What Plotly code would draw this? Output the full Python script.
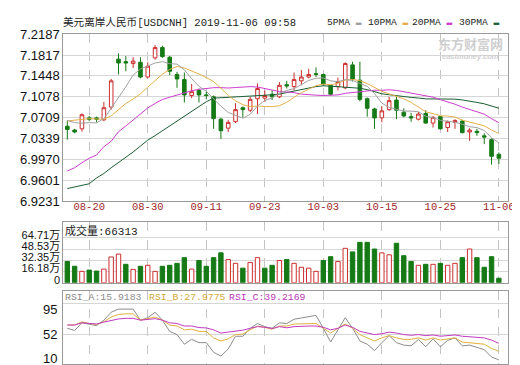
import plotly.graph_objects as go

# ---------------- data ----------------
dates = [
    "2019-08-15", "2019-08-16", "2019-08-19", "2019-08-20", "2019-08-21", "2019-08-22", "2019-08-23",
    "2019-08-26", "2019-08-27", "2019-08-28", "2019-08-29", "2019-08-30",
    "2019-09-02", "2019-09-03", "2019-09-04", "2019-09-05", "2019-09-06", "2019-09-09", "2019-09-10",
    "2019-09-11", "2019-09-12", "2019-09-13", "2019-09-16", "2019-09-17", "2019-09-18", "2019-09-19",
    "2019-09-20", "2019-09-23", "2019-09-24", "2019-09-25", "2019-09-26", "2019-09-27", "2019-09-30",
    "2019-10-01", "2019-10-02", "2019-10-03", "2019-10-04", "2019-10-07", "2019-10-08", "2019-10-09",
    "2019-10-10", "2019-10-11", "2019-10-14", "2019-10-15", "2019-10-16", "2019-10-17", "2019-10-18",
    "2019-10-21", "2019-10-22", "2019-10-23", "2019-10-24", "2019-10-25", "2019-10-28", "2019-10-29",
    "2019-10-30", "2019-10-31", "2019-11-01", "2019-11-04", "2019-11-05", "2019-11-06",
]

opens = [7.0556, 7.0488, 7.0510, 7.0704, 7.0704, 7.0670, 7.0896, 7.1745, 7.1700, 7.1666,
         7.1689, 7.1428, 7.1767, 7.1949, 7.1779, 7.1473, 7.1383, 7.1100, 7.1190, 7.1111,
         7.1077, 7.0681, 7.0522, 7.0636, 7.0884, 7.0840, 7.1043, 7.1054, 7.1122, 7.1077,
         7.1292, 7.1258, 7.1360, 7.1428, 7.1487, 7.1473, 7.1281, 7.1258, 7.1236, 7.1643,
         7.1372, 7.1043, 7.0862, 7.0704, 7.0850, 7.1020, 7.0806, 7.0726, 7.0681, 7.0782,
         7.0612, 7.0726, 7.0534, 7.0624, 7.0647, 7.0454, 7.0466, 7.0386, 7.0318, 7.0058]
highs = [7.0658, 7.0510, 7.0782, 7.0738, 7.0726, 7.0986, 7.1394, 7.1847, 7.1801, 7.1779,
         7.1779, 7.1689, 7.1995, 7.1983, 7.1801, 7.1519, 7.1507, 7.1304, 7.1224, 7.1168,
         7.1100, 7.0704, 7.0670, 7.0964, 7.0908, 7.1077, 7.1315, 7.1190, 7.1190, 7.1338,
         7.1360, 7.1507, 7.1553, 7.1575, 7.1598, 7.1485, 7.1281, 7.1417, 7.1689, 7.1700,
         7.1700, 7.1066, 7.0884, 7.0908, 7.1077, 7.1077, 7.0874, 7.0794, 7.0806, 7.0840,
         7.0738, 7.0738, 7.0658, 7.0681, 7.0670, 7.0522, 7.0510, 7.0432, 7.0340, 7.0092]
lows = [7.0318, 7.0432, 7.0459, 7.0646, 7.0624, 7.0646, 7.0850, 7.1473, 7.1530, 7.1587,
        7.1405, 7.1405, 7.1734, 7.1767, 7.1462, 7.1236, 7.0976, 7.1054, 7.0976, 7.1032,
        7.0510, 7.0330, 7.0454, 7.0613, 7.0714, 7.0806, 7.0772, 7.0986, 7.1020, 7.1054,
        7.1224, 7.1190, 7.1281, 7.1405, 7.1428, 7.1270, 7.1100, 7.1190, 7.1213, 7.1349,
        7.0998, 7.0726, 7.0510, 7.0624, 7.0828, 7.0681, 7.0714, 7.0636, 7.0658, 7.0602,
        7.0534, 7.0500, 7.0454, 7.0510, 7.0432, 7.0296, 7.0386, 7.0239, 6.9876, 6.9888]
closes = [7.0500, 7.0454, 7.0760, 7.0681, 7.0681, 7.0884, 7.1360, 7.1677, 7.1677, 7.1711,
          7.1428, 7.1621, 7.1949, 7.1790, 7.1530, 7.1394, 7.1111, 7.1168, 7.1111, 7.1100,
          7.0692, 7.0477, 7.0624, 7.0850, 7.0850, 7.1032, 7.1224, 7.1100, 7.1077, 7.1281,
          7.1270, 7.1383, 7.1428, 7.1473, 7.1476, 7.1304, 7.1122, 7.1349, 7.1666, 7.1394,
          7.1032, 7.0874, 7.0704, 7.0828, 7.1009, 7.0840, 7.0738, 7.0704, 7.0772, 7.0612,
          7.0714, 7.0510, 7.0636, 7.0658, 7.0442, 7.0488, 7.0443, 7.0364, 7.0024, 6.9990]

ma5 = [7.0660, 7.0620, 7.0610, 7.0620, 7.0615, 7.0692, 7.0873, 7.1057, 7.1256, 7.1462,
       7.1571, 7.1623, 7.1677, 7.1700, 7.1664, 7.1657, 7.1555, 7.1399, 7.1263, 7.1177,
       7.1036, 7.0910, 7.0801, 7.0749, 7.0699, 7.0767, 7.0916, 7.1011, 7.1057, 7.1143,
       7.1190, 7.1222, 7.1288, 7.1367, 7.1406, 7.1413, 7.1361, 7.1345, 7.1383, 7.1367,
       7.1313, 7.1263, 7.1134, 7.0966, 7.0889, 7.0851, 7.0824, 7.0824, 7.0813, 7.0733,
       7.0708, 7.0662, 7.0649, 7.0626, 7.0592, 7.0547, 7.0533, 7.0479, 7.0352, 7.0262]
ma10 = [7.0650, 7.0665, 7.0685, 7.0690, 7.0685, 7.0680, 7.0740, 7.0850, 7.0960, 7.1039,
        7.1131, 7.1248, 7.1367, 7.1478, 7.1563, 7.1614, 7.1589, 7.1538, 7.1481, 7.1420,
        7.1347, 7.1232, 7.1100, 7.1006, 7.0938, 7.0902, 7.0913, 7.0906, 7.0903, 7.0921,
        7.0979, 7.1069, 7.1150, 7.1212, 7.1275, 7.1302, 7.1291, 7.1316, 7.1375, 7.1386,
        7.1363, 7.1312, 7.1239, 7.1175, 7.1128, 7.1082, 7.1043, 7.0979, 7.0890, 7.0811,
        7.0780, 7.0743, 7.0736, 7.0719, 7.0663, 7.0627, 7.0598, 7.0564, 7.0489, 7.0427]
ma20 = [6.9763, 6.9820, 6.9910, 6.9990, 7.0046, 7.0194, 7.0290, 7.0460, 7.0560, 7.0670,
        7.0780, 7.0880, 7.0960, 7.1030, 7.1070, 7.1110, 7.1150, 7.1185, 7.1210, 7.1229,
        7.1239, 7.1240, 7.1233, 7.1242, 7.1250, 7.1258, 7.1251, 7.1222, 7.1192, 7.1170,
        7.1163, 7.1151, 7.1125, 7.1109, 7.1106, 7.1101, 7.1102, 7.1111, 7.1139, 7.1153,
        7.1170, 7.1190, 7.1194, 7.1193, 7.1201, 7.1191, 7.1167, 7.1147, 7.1132, 7.1099,
        7.1071, 7.1027, 7.0988, 7.0947, 7.0895, 7.0855, 7.0821, 7.0771, 7.0689, 7.0619]
ma30 = [6.9452, 6.9480, 6.9510, 6.9537, 6.9640, 6.9720, 6.9820, 6.9910, 7.0000, 7.0100,
        7.0205, 7.0310, 7.0390, 7.0475, 7.0560, 7.0650, 7.0735, 7.0810, 7.0900, 7.0990,
        7.1054, 7.1060, 7.1065, 7.1072, 7.1080, 7.1088, 7.1097, 7.1105, 7.1115, 7.1126,
        7.1152, 7.1183, 7.1205, 7.1232, 7.1258, 7.1272, 7.1265, 7.1254, 7.1253, 7.1243,
        7.1229, 7.1205, 7.1163, 7.1131, 7.1114, 7.1095, 7.1083, 7.1067, 7.1056, 7.1040,
        7.1040, 7.1042, 7.1042, 7.1036, 7.1022, 7.1004, 7.0978, 7.0953, 7.0918, 7.0875]

volume_wan = [30.7, 23.8, 16.5, 18.3, 16.9, 19.7, 37.2, 41.3, 26.6, 19.3,
              23.8, 25.2, 16.5, 23.8, 25.2, 28.0, 36.2, 19.7, 32.1, 23.8,
              36.2, 43.1, 33.5, 28.0, 21.1, 29.3, 36.2, 21.1, 25.2, 32.1,
              33.5, 28.0, 22.4, 21.1, 16.5, 32.1, 37.6, 30.7, 49.6, 44.5,
              58.2, 58.2, 48.6, 43.1, 40.3, 56.9, 39.0, 30.7, 25.2, 26.6,
              26.6, 28.0, 25.2, 28.0, 36.2, 48.6, 36.2, 22.4, 37.6, 6.63]

rsi_a = [60.3, 57.2, 68.0, 66.3, 64.0, 71.7, 82.9, 87.3, 87.3, 87.3,
         71.7, 75.2, 82.9, 71.7, 55.9, 51.4, 37.9, 44.7, 40.1, 40.1,
         26.6, 21.2, 31.2, 49.1, 49.1, 60.3, 67.0, 62.6, 60.3, 68.0,
         67.0, 73.0, 74.8, 76.1, 78.4, 60.3, 41.0, 58.1, 75.2, 60.3,
         42.4, 37.9, 28.9, 40.1, 50.0, 40.1, 36.6, 35.6, 44.7, 34.3,
         45.5, 34.3, 43.3, 46.8, 35.6, 36.6, 33.4, 30.2, 19.9, 15.9]
rsi_b = [64.9, 64.9, 69.4, 67.0, 65.7, 69.4, 76.1, 79.7, 80.6, 80.6,
         71.7, 73.8, 76.1, 71.7, 64.9, 63.5, 58.1, 59.0, 55.9, 55.9,
         46.8, 42.4, 45.5, 51.4, 52.2, 58.1, 63.5, 61.7, 59.0, 63.5,
         63.5, 66.3, 66.3, 67.0, 67.0, 60.3, 53.6, 60.3, 66.3, 60.3,
         51.4, 46.8, 42.4, 46.8, 50.0, 46.8, 44.7, 44.7, 46.8, 43.7,
         46.8, 43.7, 45.5, 46.8, 41.0, 40.1, 39.2, 37.9, 32.0, 28.0]
rsi_c = [64.9, 64.9, 68.0, 67.0, 66.3, 69.0, 71.7, 73.4, 74.3, 74.3,
         71.7, 72.5, 73.8, 71.7, 68.0, 67.0, 63.5, 63.5, 61.3, 60.8,
         58.1, 53.6, 54.9, 57.2, 57.6, 60.3, 62.6, 61.7, 60.0, 62.6,
         61.0, 62.6, 63.5, 63.5, 63.5, 61.7, 58.1, 60.3, 64.9, 61.7,
         55.9, 53.6, 51.4, 52.7, 54.9, 53.6, 51.4, 50.5, 51.4, 50.0,
         50.9, 49.1, 50.0, 50.9, 49.1, 48.2, 47.8, 46.8, 43.7, 39.2]

price_ticks = [6.9231, 6.9601, 6.9970, 7.0339, 7.0709, 7.1078, 7.1448, 7.1817, 7.2187]
price_tick_text = ["6.9231", "6.9601", "6.9970", "7.0339", "7.0709", "7.1078", "7.1448", "7.1817", "7.2187"]
vol_ticks = [0, 16.18, 32.35, 48.53, 64.71]
vol_tick_text = ["0", "16.18万", "32.35万", "48.53万", "64.71万"]
rsi_ticks = [10, 52, 95]
date_ticks = ["2019-08-20", "2019-08-30", "2019-09-11", "2019-09-23",
              "2019-10-03", "2019-10-15", "2019-10-25", "2019-11-06"]
date_tick_text = ["08-20", "08-30", "09-11", "09-23", "10-03", "10-15", "10-25", "11-06"]

title_text = "美元离岸人民币[USDCNH] 2019-11-06 09:58"
ma_names = ["5PMA", "10PMA", "20PMA", "30PMA"]
volume_label = "成交量:66313"
rsi_labels = ["RSI_A:15.9183", "RSI_B:27.9775", "RSI_C:39.2169"]

# ---------------- style ----------------
W, H = 520, 365
RED = "#cc2e2e"
GREEN = "#157a15"
MA_COLORS = ["#a0a0a0", "#e3b04b", "#cc3dcc", "#1b5e33"]
FRAME = "#9a9a9a"
GRID = "#d6d6d6"
VGRID = "#c4c4c4"
MONO = "Liberation Mono, Noto Sans CJK SC, monospace"
SANS = "Liberation Sans, Noto Sans CJK SC, sans-serif"


def px(x):
    return x / W


def py(y):
    return 1 - y / H


L, R = 56, 506
MAIN = (20, 194)
VOL = (216, 279.3)
RSI = (288, 364)

fig = go.Figure()

# MA lines (main panel)
for vals, col, name in zip([ma30, ma20, ma10, ma5], MA_COLORS[::-1], ma_names[::-1]):
    fig.add_trace(go.Scatter(x=dates, y=vals, mode="lines", name=name,
                             line=dict(color=col, width=1), xaxis="x", yaxis="y",
                             hoverinfo="skip"))

# candles
fig.add_trace(go.Candlestick(
    x=dates, open=opens, high=highs, low=lows, close=closes,
    increasing=dict(line=dict(color=RED, width=1), fillcolor="white"),
    decreasing=dict(line=dict(color=GREEN, width=1), fillcolor=GREEN),
    whiskerwidth=0, xaxis="x", yaxis="y", name="K"))

# volume (colour by close vs previous close)
up = [i > 0 and closes[i] > closes[i - 1] for i in range(len(closes))]
fig.add_trace(go.Bar(
    x=dates, y=volume_wan, width=0.6, xaxis="x2", yaxis="y2",
    marker=dict(color=["white" if u else GREEN for u in up],
                line=dict(color=[RED if u else GREEN for u in up], width=1)),
    hoverinfo="skip"))

# RSI
for vals, col in zip([rsi_a, rsi_b, rsi_c], ["#8c8c8c", "#e0b040", "#c03cc0"]):
    fig.add_trace(go.Scatter(x=dates, y=vals, mode="lines", line=dict(color=col, width=1),
                             xaxis="x3", yaxis="y3", hoverinfo="skip"))

xr = [-0.54, 60.27]
xcommon = dict(type="category", range=xr, showline=True, mirror=True, linecolor=FRAME,
               linewidth=1, showgrid=True, gridcolor=VGRID, griddash="dash", gridwidth=1,
               tickvals=date_ticks, ticktext=date_tick_text, zeroline=False,
               domain=[px(L), px(R)], fixedrange=True)
ycommon = dict(showline=True, mirror=True, linecolor=FRAME, linewidth=1, showgrid=True,
               gridcolor=GRID, gridwidth=1, zeroline=False, fixedrange=True,
               tickfont=dict(family=SANS, size=13, color="#111"))

annotations = [
    dict(x=px(54), y=py(8), xref="paper", yref="paper", xanchor="left", yanchor="middle",
         text=title_text, showarrow=False, font=dict(family=MONO, size=10.6, color="#222")),
    dict(x=px(56), y=py(225), xref="paper", yref="paper", xanchor="left", yanchor="middle",
         text=volume_label, showarrow=False, font=dict(family=MONO, size=11, color="#222")),
    dict(x=px(433), y=py(30), xref="paper", yref="paper", xanchor="left", yanchor="middle",
         text="<b>东方财富网</b>", showarrow=False,
         font=dict(family="Noto Sans CJK SC", size=13, color="#cfcfcf")),
    dict(x=px(468), y=py(43), xref="paper", yref="paper", xanchor="center", yanchor="middle",
         text="<b><i>eastmoney.com</i></b>", showarrow=False,
         font=dict(family="Liberation Sans", size=7.5, color="#cfcfcf")),
]
# MA legend: name followed by colour swatch
legend_x = [321, 362, 407, 454]
for name, col, lx in zip(ma_names, MA_COLORS, legend_x):
    annotations.append(dict(x=px(lx), y=py(8), xref="paper", yref="paper", xanchor="left",
                            yanchor="middle", showarrow=False,
                            text=name + "<span style='color:%s'> ▬</span>" % col,
                            font=dict(family=MONO, size=9.6, color="#222")))
# RSI header texts
for txt, col, lx in zip(rsi_labels, ["#8c8c8c", "#d4a838", "#b838b8"], [56, 141, 222]):
    annotations.append(dict(x=px(lx), y=py(295), xref="paper", yref="paper", xanchor="left",
                            yanchor="middle", showarrow=False, text=txt,
                            font=dict(family=MONO, size=9.8, color=col)))
# RSI axis labels
for v, shift in zip(rsi_ticks, [6, 0, -6]):
    annotations.append(dict(x=px(52), y=v, xref="paper", yref="y3", xanchor="right",
                            yanchor="middle", yshift=shift, showarrow=False, text=str(v),
                            font=dict(family=SANS, size=13, color="#111")))

fig.update_layout(
    width=W, height=H, margin=dict(l=0, r=0, t=0, b=0),
    paper_bgcolor="white", plot_bgcolor="white", showlegend=False,
    xaxis=dict(xcommon, anchor="y", showticklabels=True, ticklabelstandoff=-5,
               tickfont=dict(family=MONO, size=10.5, color="#a02828"),
               rangeslider=dict(visible=False)),
    xaxis2=dict(xcommon, anchor="y2", matches="x", showticklabels=False),
    xaxis3=dict(xcommon, anchor="y3", matches="x", showticklabels=False),
    yaxis=dict(ycommon, domain=[py(MAIN[1]), py(MAIN[0])], range=[6.9231, 7.2187],
               tickvals=price_ticks, ticktext=price_tick_text, anchor="x"),
    yaxis2=dict(ycommon, domain=[py(VOL[1]), py(VOL[0])], range=[0, 87.3],
                tickvals=vol_ticks, ticktext=vol_tick_text, anchor="x2",
                ticklabelshift=-3,
                tickfont=dict(family=SANS, size=11, color="#111")),
    yaxis3=dict(ycommon, domain=[py(RSI[1]), py(RSI[0])], range=[10, 112.5],
                tickvals=[52, 95], showticklabels=False, anchor="x3"),
    annotations=annotations,
)

fig.write_html("out.html", config={"displayModeBar": False})
